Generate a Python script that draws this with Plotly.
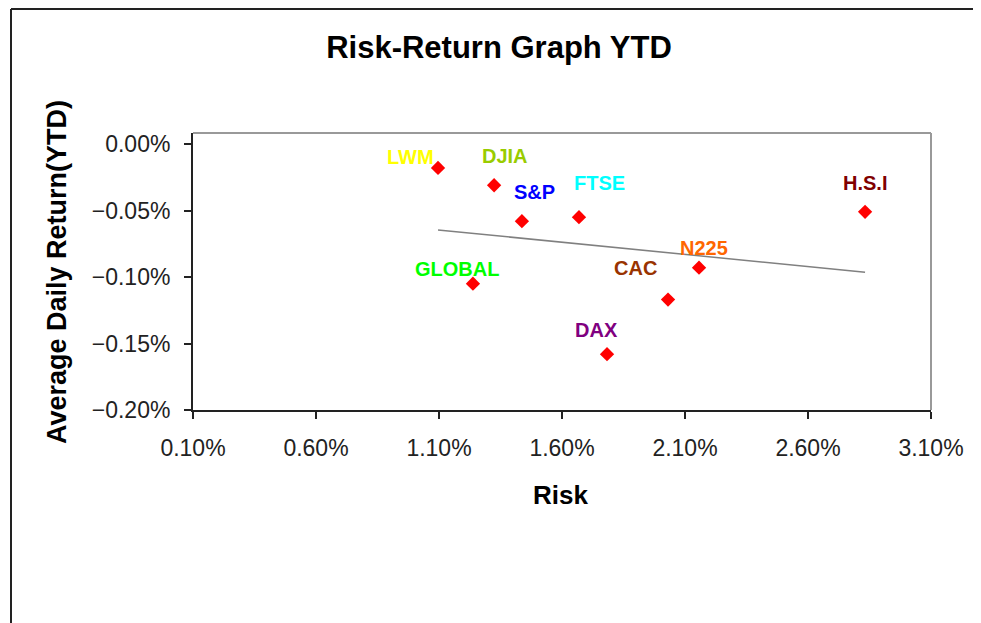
import numpy as np
import plotly.graph_objects as go

# ---- data ----
names = ["LWM", "DJIA", "S&P", "FTSE", "H.S.I", "N225", "CAC", "GLOBAL", "DAX"]
risk = [0.01096, 0.01324, 0.01437, 0.01669, 0.02832, 0.02157, 0.02031, 0.01238, 0.01783]
avg_return = [-0.00018, -0.00031, -0.00058, -0.00055, -0.00051, -0.00093, -0.00117, -0.00105, -0.00158]
x_ticks = [0.001, 0.006, 0.011, 0.016, 0.021, 0.026, 0.031]
y_ticks = [0.0, -0.0005, -0.0010, -0.0015, -0.0020]

# ---- styling ----
label_colors = {"LWM": "#FFFF00", "DJIA": "#99CC00", "S&P": "#0000FF", "FTSE": "#00FFFF",
                "H.S.I": "#800000", "N225": "#FF6600", "CAC": "#993300",
                "GLOBAL": "#00FF00", "DAX": "#800080"}
label_offsets = {"LWM": (-28, 11), "DJIA": (11, 29), "S&P": (13, 29), "FTSE": (21, 34),
                 "H.S.I": (0, 29), "N225": (5, 20), "CAC": (-33, 32),
                 "GLOBAL": (-16, 15), "DAX": (-11, 24)}

FONT = "Liberation Sans, Arial, sans-serif"

# page body has an 8px margin; the figure is sized to fit inside the window
W, H = 973, 615
PL, PR, PT, PB = 185, 923, 125, 402   # plot area in figure pixels

def px_x(p):
    return (p - PL) / (PR - PL)

def px_y(p):
    return (PB - p) / (PB - PT)

fig = go.Figure()

# linear trendline (least squares over the points)
slope, intercept = np.polyfit(risk, avg_return, 1)
tx = [min(risk), max(risk)]
ty = [slope * v + intercept for v in tx]
fig.add_trace(go.Scatter(x=tx, y=ty, mode="lines",
                         line=dict(color="#808080", width=1.5),
                         hoverinfo="skip", showlegend=False))

fig.add_trace(go.Scatter(x=risk, y=avg_return, mode="markers",
                         marker=dict(symbol="diamond", color="#FF0000", size=11),
                         text=names, showlegend=False))

for n, xv, yv in zip(names, risk, avg_return):
    dx, dy = label_offsets[n]
    fig.add_annotation(x=xv, y=yv, text="<b>%s</b>" % n, showarrow=False,
                       xshift=dx, yshift=dy, xanchor="center", yanchor="middle",
                       font=dict(family=FONT, size=20, color=label_colors[n]))

# axis titles
fig.add_annotation(xref="paper", yref="paper", x=px_x(560 - 8), y=px_y(495 - 8),
                   xanchor="center", yanchor="middle",
                   text="<b>Risk</b>", showarrow=False,
                   font=dict(family=FONT, size=26, color="black"))
fig.add_annotation(xref="paper", yref="paper", x=px_x(57 - 8), y=px_y(272 - 8),
                   xanchor="center", yanchor="middle",
                   text="<b>Average Daily Return(YTD)</b>", textangle=-90,
                   showarrow=False, font=dict(family=FONT, size=27, color="black"))

# plot-area border (top and right, grey)
fig.add_shape(type="line", xref="paper", yref="paper", x0=0, x1=1, y0=1, y1=1,
              line=dict(color="#999999", width=2))
fig.add_shape(type="line", xref="paper", yref="paper", x0=1, x1=1, y0=0, y1=1,
              line=dict(color="#999999", width=2))
# outer chart frame (top and left)
fx, fy = px_x(11 - 8), px_y(1)
fig.add_shape(type="line", xref="paper", yref="paper", x0=fx, x1=px_x(W + 10), y0=fy, y1=fy,
              line=dict(color="#222222", width=2))
fig.add_shape(type="line", xref="paper", yref="paper", x0=fx, x1=fx, y0=px_y(H + 10), y1=fy,
              line=dict(color="#222222", width=2))

fig.update_layout(
    width=W, height=H,
    margin=dict(l=PL, r=W - PR, t=PT, b=H - PB),
    paper_bgcolor="white", plot_bgcolor="white",
    title=dict(text="<b>Risk-Return Graph YTD</b>", x=(499 - 8) / W, y=1 - (47 - 8) / H,
               xanchor="center", yanchor="middle",
               font=dict(family=FONT, size=31, color="black")),
    xaxis=dict(range=[0.001, 0.031], tickvals=x_ticks, tickformat=".2%",
               showgrid=False, zeroline=False, showline=True, linecolor="#222222",
               linewidth=2, ticks="outside", ticklen=7, tickcolor="#222222", tickwidth=2,
               ticklabelstandoff=9,
               tickfont=dict(family=FONT, size=23, color="#222222")),
    yaxis=dict(range=[-0.0020, 0.0000827], tickvals=y_ticks, tickformat=".2%",
               showgrid=False, zeroline=False, showline=True, linecolor="#222222",
               linewidth=2, ticks="outside", ticklen=7, tickcolor="#222222", tickwidth=2,
               ticklabelstandoff=9,
               tickfont=dict(family=FONT, size=23, color="#222222")),
)

fig.write_html("out.html")
